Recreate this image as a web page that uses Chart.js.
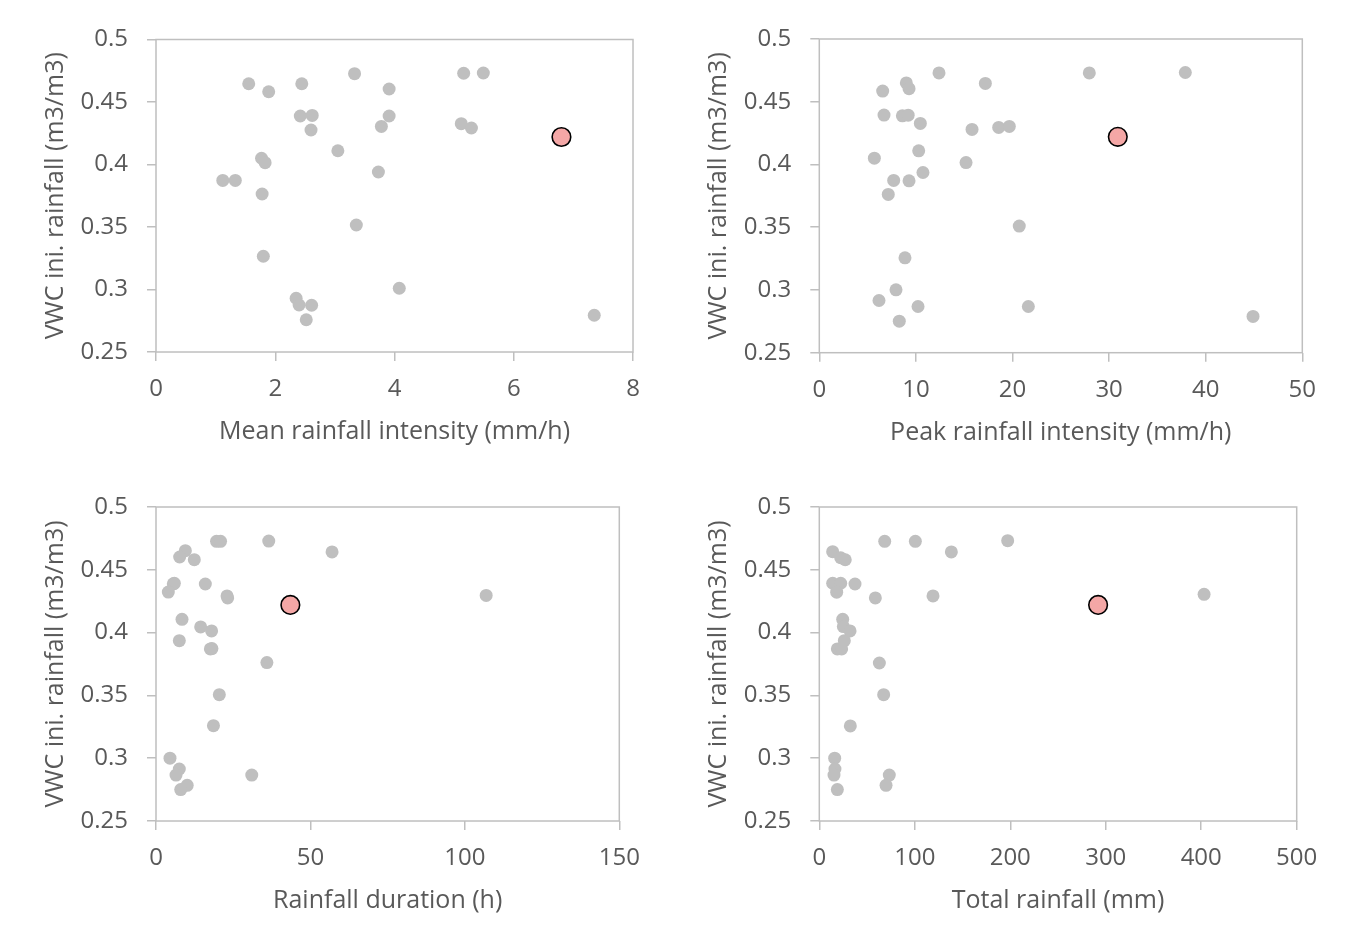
<!DOCTYPE html>
<html>
<head>
<meta charset="utf-8">
<script src="https://cdn.jsdelivr.net/npm/chart.js@4.4.1/dist/chart.umd.min.js"></script>
<style>
  html, body { margin: 0; padding: 0; background: #ffffff; }
  #wrap { position: relative; width: 1346px; height: 945px; overflow: hidden; }
  .panel { position: absolute; width: 673px; height: 472px; }
</style>
</head>
<body>
<div id="wrap">
  <div class="panel" style="left:0;top:0"><canvas id="c1"></canvas></div>
  <div class="panel" style="left:673px;top:0"><canvas id="c2"></canvas></div>
  <div class="panel" style="left:0;top:472px"><canvas id="c3"></canvas></div>
  <div class="panel" style="left:673px;top:472px"><canvas id="c4"></canvas></div>
</div>
<script>
// ---------- DATA ----------
const yTitle = "VWC ini. rainfall (m3/m3)";
const yTicks = [0.25, 0.3, 0.35, 0.4, 0.45, 0.5];
const yTickLabels = ["0.25", "0.3", "0.35", "0.4", "0.45", "0.5"];

const xTitles = ["Mean rainfall intensity (mm/h)", "Peak rainfall intensity (mm/h)", "Rainfall duration (h)", "Total rainfall (mm)"];
const meanTicks = [0, 2, 4, 6, 8];
const peakTicks = [0, 10, 20, 30, 40, 50];
const durTicks = [0, 50, 100, 150];
const totTicks = [0, 100, 200, 300, 400, 500];

// Mean rainfall intensity panel
const meanX = [1.555, 1.89, 2.445, 3.33, 3.91, 5.16, 5.49, 2.42, 2.62, 2.60, 3.91, 3.78, 5.12, 5.29, 3.05, 1.77, 1.83, 1.12, 1.33, 3.73, 1.78, 3.36, 1.80, 4.08, 2.35, 2.40, 2.61, 2.52, 7.35];
const meanY = [0.4646, 0.4582, 0.4646, 0.4727, 0.4604, 0.473, 0.4732, 0.4388, 0.4393, 0.4276, 0.4388, 0.4305, 0.4327, 0.4292, 0.411, 0.405, 0.4015, 0.3873, 0.3873, 0.394, 0.3764, 0.3516, 0.3266, 0.301, 0.293, 0.2876, 0.2874, 0.2758, 0.2794];

// Peak rainfall intensity panel
const peakX = [12.39, 27.95, 37.89, 9.01, 9.29, 6.56, 17.19, 6.70, 8.6, 9.2, 10.46, 15.81, 18.57, 19.67, 10.29, 5.70, 15.19, 10.73, 7.70, 9.29, 7.14, 20.7, 8.87, 7.94, 6.18, 10.22, 21.64, 8.28, 44.9];
const peakY = [0.473, 0.473, 0.4733, 0.465, 0.4604, 0.4585, 0.4646, 0.4394, 0.4388, 0.4393, 0.4327, 0.4279, 0.4295, 0.4303, 0.4109, 0.405, 0.4015, 0.3936, 0.3873, 0.387, 0.3761, 0.3509, 0.3256, 0.3001, 0.2916, 0.2868, 0.2868, 0.2751, 0.2789];

// Rainfall duration panel
const durX = [19.6, 20.9, 36.5, 57.0, 9.5, 7.66, 12.4, 5.6, 5.94, 3.99, 15.97, 23.0, 23.2, 106.9, 8.42, 14.46, 18.0, 7.55, 17.6, 18.1, 35.9, 20.5, 18.6, 4.53, 7.55, 6.48, 31.0, 10.1, 8.0];
const durY = [0.4727, 0.4727, 0.4729, 0.4642, 0.4652, 0.4602, 0.4581, 0.4388, 0.4392, 0.4323, 0.4387, 0.4292, 0.4276, 0.4296, 0.4106, 0.4045, 0.4013, 0.3936, 0.387, 0.3873, 0.3761, 0.3506, 0.3259, 0.3, 0.2914, 0.2866, 0.2866, 0.2784, 0.275];

// Total rainfall panel
const totX = [68.5, 100.6, 197.3, 138.3, 14.0, 22.4, 27.2, 14.0, 22.4, 18.2, 37.4, 58.7, 119.1, 403, 24.5, 25.2, 32.2, 26.2, 18.9, 23.4, 62.9, 67.4, 32.5, 16.1, 16.4, 15.4, 73.3, 69.9, 18.9];
const totY = [0.4727, 0.4727, 0.4732, 0.4642, 0.4644, 0.4596, 0.458, 0.4393, 0.4393, 0.4322, 0.4387, 0.4276, 0.4292, 0.4305, 0.4106, 0.4048, 0.4013, 0.3936, 0.387, 0.387, 0.3758, 0.3506, 0.3257, 0.3, 0.2914, 0.2866, 0.2866, 0.2784, 0.275];

// Highlighted event (red point) in each panel: mean, peak, duration, total
const highlightX = [6.80, 30.9, 43.5, 292];
const highlightY = [0.422, 0.422, 0.422, 0.422];

// ---------- STYLE / LAYOUT ----------
const FONT = "'Open Sans', 'Noto Sans', sans-serif";
const TEXT = '#595959';
const FRAME = '#bfbfbf';
const TICK_FS = 24, TITLE_FS = 25, LH = 1.2;
const WEIGHT = '400';
const W = 673, H = 472;

const framePlugin = {
  id: 'frame',
  beforeDatasetsDraw(chart) {
    const a = chart.chartArea, ctx = chart.ctx;
    ctx.save();
    ctx.strokeStyle = FRAME;
    ctx.lineWidth = 1.5;
    ctx.strokeRect(a.left, a.top, a.right - a.left, a.bottom - a.top);
    ctx.restore();
  }
};

function makeChart(id, xs, ys, hx, hy, xTicks, xTitle, geo) {
  const pts = xs.map((x, i) => ({ x: x, y: ys[i] }));
  const tickLen = 9;
  const titleLH = TITLE_FS * LH;
  return new Chart(document.getElementById(id), {
    type: 'scatter',
    data: {
      datasets: [
        { data: pts, backgroundColor: '#bfbfbf', borderColor: '#bfbfbf', borderWidth: 0, pointRadius: 6.5, pointHoverRadius: 6.5 },
        { data: [{ x: hx, y: hy }], backgroundColor: '#f4a7a6', borderColor: '#000000', borderWidth: 1.6, pointRadius: 9.3, pointHoverRadius: 9.3 }
      ]
    },
    options: {
      responsive: false,
      animation: false,
      devicePixelRatio: 1,
      events: [],
      layout: { padding: { left: 0, top: geo.top, right: W - geo.right, bottom: 0 } },
      plugins: { legend: { display: false }, tooltip: { enabled: false }, title: { display: false } },
      scales: {
        x: {
          type: 'linear',
          min: xTicks[0], max: xTicks[xTicks.length - 1],
          afterBuildTicks: s => { s.ticks = xTicks.map(v => ({ value: v })); },
          afterFit: s => { s.height = H - geo.bottom; },
          border: { display: false },
          grid: { drawOnChartArea: false, drawTicks: true, tickLength: tickLen, color: FRAME, lineWidth: 1.5 },
          ticks: { color: TEXT, font: { family: FONT, size: TICK_FS, weight: WEIGHT }, padding: 37 - tickLen - TICK_FS * LH / 2, maxRotation: 0,
                   callback: v => String(v) },
          title: { display: true, text: xTitle, color: TEXT, font: { family: FONT, size: TITLE_FS, weight: WEIGHT },
                   padding: { top: 0, bottom: (H - geo.bottom) - 80 - titleLH / 2 } }
        },
        y: {
          type: 'linear',
          min: yTicks[0], max: yTicks[yTicks.length - 1],
          afterBuildTicks: s => { s.ticks = yTicks.map(v => ({ value: v })); },
          afterFit: s => { s.width = geo.left; },
          border: { display: false },
          grid: { drawOnChartArea: false, drawTicks: true, tickLength: tickLen, color: FRAME, lineWidth: 1.5 },
          ticks: { color: TEXT, font: { family: FONT, size: TICK_FS, weight: WEIGHT }, padding: 28 - tickLen,
                   callback: v => { const i = yTicks.findIndex(t => Math.abs(t - v) < 1e-9); return i >= 0 ? yTickLabels[i] : ''; } },
          title: { display: true, text: yTitle, color: TEXT, font: { family: FONT, size: TITLE_FS, weight: WEIGHT },
                   padding: { top: geo.left - 100 - titleLH / 2, bottom: 0 } }
        }
      }
    },
    plugins: [framePlugin]
  });
}

function sizeCanvas(id) {
  const c = document.getElementById(id);
  c.width = W; c.height = H;
  c.style.width = W + 'px'; c.style.height = H + 'px';
}
['c1', 'c2', 'c3', 'c4'].forEach(sizeCanvas);

makeChart('c1', meanX, meanY, highlightX[0], highlightY[0], meanTicks, xTitles[0], { left: 156, right: 633, top: 39.5, bottom: 352 });
makeChart('c2', peakX, peakY, highlightX[1], highlightY[1], peakTicks, xTitles[1], { left: 146.3, right: 629.3, top: 39, bottom: 352.7 });
makeChart('c3', durX, durY, highlightX[2], highlightY[2], durTicks, xTitles[2], { left: 156, right: 619.3, top: 35, bottom: 349 });
makeChart('c4', totX, totY, highlightX[3], highlightY[3], totTicks, xTitles[3], { left: 146.3, right: 623.7, top: 35, bottom: 349 });
</script>
</body>
</html>
